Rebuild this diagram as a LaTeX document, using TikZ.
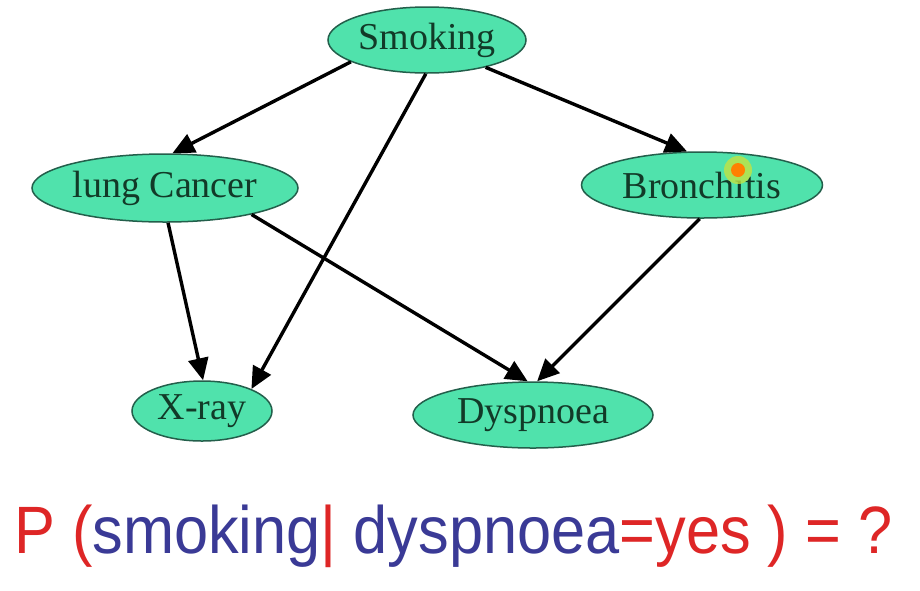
\documentclass[tikz,border=0pt]{standalone}
\usepackage{fontspec}
\setmainfont{Liberation Serif}
\newfontfamily\qfont{Liberation Sans}
\usetikzlibrary{shapes.geometric,arrows.meta}
\definecolor{nodefill}{RGB}{80,226,172}
\definecolor{nodeline}{RGB}{35,95,75}
\definecolor{nodetext}{RGB}{18,58,40}
\definecolor{qred}{RGB}{222,38,38}
\definecolor{qblue}{RGB}{58,58,150}
\tikzset{
  var/.style={ellipse, draw=nodeline, line width=1.5pt, fill=nodefill, inner sep=0pt,
    text=nodetext, font=\fontsize{38}{40}\selectfont},
  edge/.style={line width=3.4pt, -{Triangle[length=22pt,width=20pt]}}
}
\begin{document}
\begin{tikzpicture}[x=1pt,y=-1pt]
\useasboundingbox (0,0) rectangle (920,590);
\fill[white] (0,0) rectangle (920,590);
\node[var, minimum width=198pt, minimum height=66pt] (s) at (427,40) {Smoking};
\node[var, minimum width=266pt, minimum height=68pt] (c) at (165,188) {lung Cancer};
\node[var, minimum width=241pt, minimum height=66pt] (b) at (702,185) {Bronchitis};
\node[var, minimum width=140pt, minimum height=60pt] (x) at (202,411) {X-ray};
\node[var, minimum width=240pt, minimum height=66pt] (d) at (533,415) {Dyspnoea};
\draw[edge] (s.196) -- (c.78);
\draw[edge] (s.268) -- (x.24);
\draw[edge] (s.335) -- (b.114);
\draw[edge] (c.275) -- (x.88);
\draw[edge] (c.343) -- (d.99);
\draw[edge] (b.266) -- (d.83);
% cursor highlight
\fill[yellow!70!green!80!white, opacity=0.8] (738,170) circle (14pt);
\fill[orange] (738,170) circle (7pt);
\node[anchor=base west, inner sep=0pt, font=\qfont\fontsize{67}{70}\selectfont] (q) at (14,553)
  {\scalebox{0.915}[1]{\textcolor{qred}{P (}\textcolor{qblue}{smoking}\textcolor{qred}{|} \textcolor{qblue}{dyspnoea}\textcolor{qred}{=yes ) = ?}}};
\end{tikzpicture}
\end{document}
